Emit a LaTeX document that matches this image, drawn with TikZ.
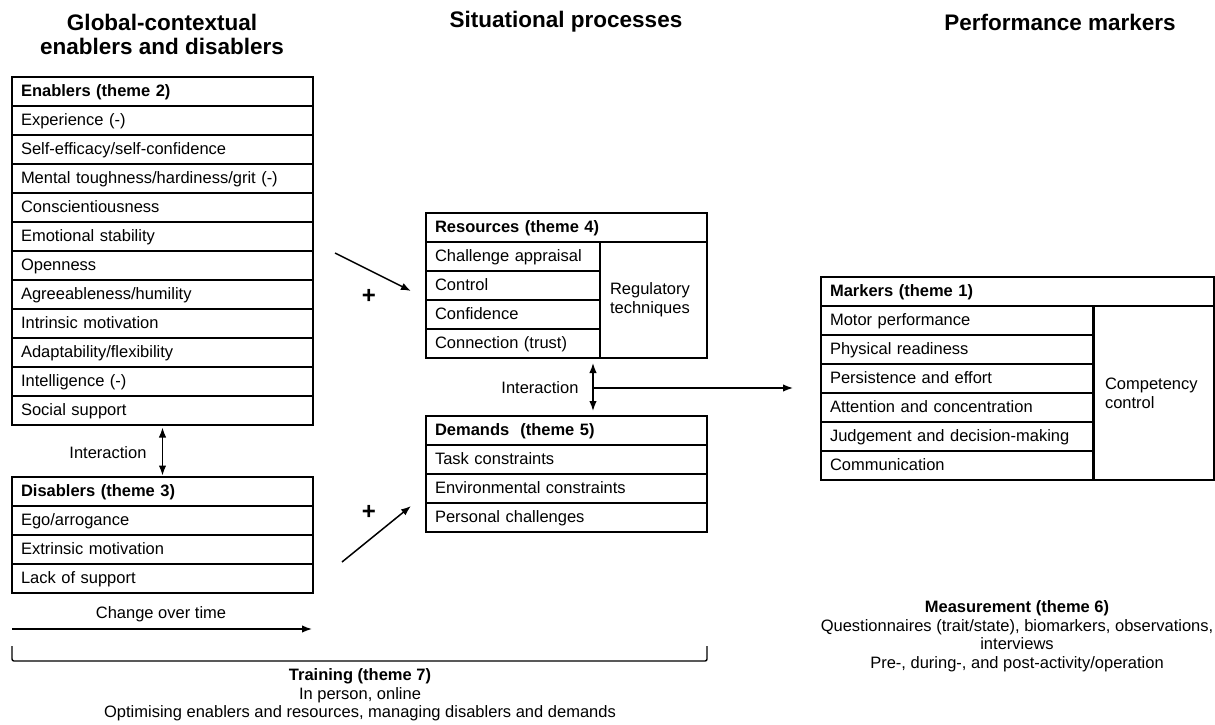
\documentclass[tikz,border=0pt]{standalone}
\usepackage{fontspec}
\setmainfont{Liberation Sans}
\usepackage{tikz}
\usetikzlibrary{arrows.meta,positioning}

\begin{document}
\begin{tikzpicture}[
  x=1pt, y=-1pt,
  node distance=0pt,
  >={Latex[length=10pt,width=7.5pt]},
  every node/.style={font=\fontsize{16.5}{19}\selectfont},
  title/.style={font=\bfseries\fontsize{22.5}{24}\selectfont, align=center},
  cell/.style={draw, line width=1.1pt, minimum height=29pt, inner xsep=9pt, inner ysep=0pt, text height=12pt, text depth=2.5pt, align=left, outer sep=0pt},
  head/.style={cell, font=\bfseries\fontsize{16.5}{19}\selectfont},
  spancell/.style={draw, line width=1.1pt, inner xsep=10pt, align=left, outer sep=0pt},
  wide/.style={text width=283pt},
  plus/.style={font=\bfseries\fontsize{24}{24}\selectfont},
  arrow/.style={->, line width=1.5pt},
  note/.style={align=center, font=\fontsize{16.5}{18.5}\selectfont}
]
\useasboundingbox (0,0) rectangle (1215,725);

% column titles
\node[title] (t_global) at (162,34) {Global-contextual\\enablers and disablers};
\node[title] (t_situ) at (566,22) {Situational processes};
\node[title] (t_perf) at (1060,22) {Performance markers};

% enablers
\node[head, wide, anchor=north west] (en0) at (12,77) {Enablers (theme 2)};
\node[cell, wide, below=of en0] (en1) {Experience (-)};
\node[cell, wide, below=of en1] (en2) {Self-efficacy/self-confidence};
\node[cell, wide, below=of en2] (en3) {Mental toughness/hardiness/grit (-)};
\node[cell, wide, below=of en3] (en4) {Conscientiousness};
\node[cell, wide, below=of en4] (en5) {Emotional stability};
\node[cell, wide, below=of en5] (en6) {Openness};
\node[cell, wide, below=of en6] (en7) {Agreeableness/humility};
\node[cell, wide, below=of en7] (en8) {Intrinsic motivation};
\node[cell, wide, below=of en8] (en9) {Adaptability/flexibility};
\node[cell, wide, below=of en9] (en10) {Intelligence (-)};
\node[cell, wide, below=of en10] (en11) {Social support};

% disablers
\node[head, wide, anchor=north west] (dis0) at (12,477) {Disablers (theme 3)};
\node[cell, wide, below=of dis0] (dis1) {Ego/arrogance};
\node[cell, wide, below=of dis1] (dis2) {Extrinsic motivation};
\node[cell, wide, below=of dis2] (dis3) {Lack of support};

\draw[arrow, <->, shorten <=2.5pt, shorten >=1.5pt] (en11.south) -- (dis0.north);
\node[anchor=east] (int_left) at (150,453) {Interaction};

% resources
\node[head, text width=263pt, anchor=north west] (res0) at (426,213) {Resources (theme 4)};
\node[cell, text width=156pt, below=0pt of res0.south west, anchor=north west] (res1) {Challenge appraisal};
\node[cell, text width=156pt, below=of res1] (res2) {Control};
\node[cell, text width=156pt, below=of res2] (res3) {Confidence};
\node[cell, text width=156pt, below=of res3] (res4) {Connection (trust)};
\node[spancell, text width=87pt, minimum height=116pt, anchor=north east] (reg) at (res0.south east) {Regulatory\\techniques};

% demands
\node[head, text width=263pt, anchor=north west] (dem0) at (426,416) {Demands~ (theme 5)};
\node[cell, text width=263pt, below=of dem0] (dem1) {Task constraints};
\node[cell, text width=263pt, below=of dem1] (dem2) {Environmental constraints};
\node[cell, text width=263pt, below=of dem2] (dem3) {Personal challenges};

% influences from enablers and disablers
\coordinate (up_a) at (335,253);
\coordinate (up_b) at (411,291);
\coordinate (lo_a) at (342,562);
\coordinate (lo_b) at (411,506);
\draw[arrow] (up_a) -- (up_b);
\draw[arrow] (lo_a) -- (lo_b);
\node[plus] (plus_up) at (369,296) {+};
\node[plus] (plus_lo) at (369,512) {+};

% markers
\node[head, text width=375pt, anchor=north west] (mk0) at (821,277) {Markers (theme 1)};
\node[cell, text width=254pt, below=0pt of mk0.south west, anchor=north west] (mk1) {Motor performance};
\node[cell, text width=254pt, below=of mk1] (mk2) {Physical readiness};
\node[cell, text width=254pt, below=of mk2] (mk3) {Persistence and effort};
\node[cell, text width=254pt, below=of mk3] (mk4) {Attention and concentration};
\node[cell, text width=254pt, below=of mk4] (mk5) {Judgement and decision-making};
\node[cell, text width=254pt, below=of mk5] (mk6) {Communication};
\node[spancell, inner xsep=11pt, text width=98pt, minimum height=174pt, anchor=north east] (comp) at (mk0.south east) {Competency\\control};

% interaction between resources and demands
\coordinate (hub) at (593,388);
\draw[arrow, <->, shorten <=5pt, shorten >=5pt] (hub |- res4.south) -- (hub |- dem0.north);
\draw[arrow, shorten >=28pt] (hub) -- (hub -| mk0.west);
\node[anchor=east] (int_mid) at (582,388) {Interaction};

% change over time and training
\coordinate (time_a) at (12,629);
\coordinate (time_b) at (312,629);
\draw[arrow] (time_a) -- (time_b);
\node (time_lbl) at (161,614) {Change over time};

\coordinate (br_l) at (12,646);
\coordinate (br_r) at (707,646);
\draw[line width=1.4pt, rounded corners=2pt] (br_l) -- ++(0,15) -| (br_r);

\node[note] (training) at (360,695) {\textbf{Training (theme 7)}\\In person, online\\Optimising enablers and resources, managing disablers and demands};

\node[note] (measure) at (1017,636) {\textbf{Measurement (theme 6)}\\Questionnaires (trait/state), biomarkers, observations,\\interviews\\Pre-, during-, and post-activity/operation};
\end{tikzpicture}
\end{document}
